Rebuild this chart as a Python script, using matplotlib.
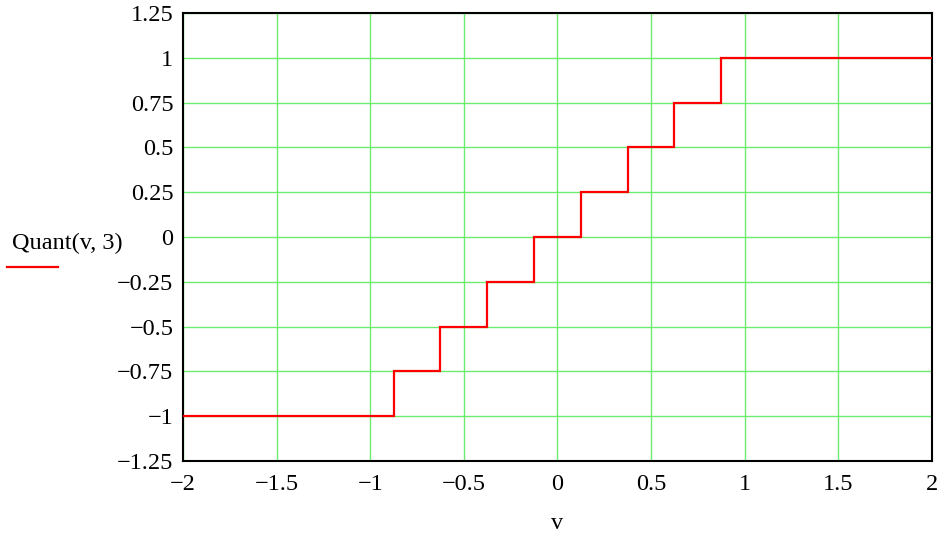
import matplotlib
matplotlib.use("Agg")
import matplotlib.pyplot as plt
from matplotlib.lines import Line2D
import numpy as np

# step edges and the quantised level on each step
edges = [-2, -0.875, -0.625, -0.375, -0.125, 0.125, 0.375, 0.625, 0.875, 2]
levels = [-1, -0.75, -0.5, -0.25, 0, 0.25, 0.5, 0.75, 1]

x_ticks = [-2, -1.5, -1, -0.5, 0, 0.5, 1, 1.5, 2]
y_ticks = [-1.25, -1, -0.75, -0.5, -0.25, 0, 0.25, 0.5, 0.75, 1, 1.25]

plt.rcParams["font.family"] = ["Liberation Serif", "DejaVu Serif"]
plt.rcParams["axes.unicode_minus"] = True


def fmt(v):
    s = f"{v:g}"
    return s.replace("-", "\u2212")


fig = plt.figure(figsize=(9.46, 5.33), dpi=100)
ax = fig.add_axes([0.1935, 0.135, 0.7915, 0.8405])

ax.stairs(levels, edges, color="#ff0000", linewidth=1.6, baseline=None, zorder=3)

ax.set_xlim(-2, 2)
ax.set_ylim(-1.25, 1.25)
ax.set_xticks(x_ticks)
ax.set_yticks(y_ticks)
ax.set_xticklabels([fmt(v) for v in x_ticks])
ax.set_yticklabels([fmt(v) for v in y_ticks])
ax.tick_params(axis="both", length=0, labelsize=17.5)
ax.tick_params(axis="x", pad=9)
ax.tick_params(axis="y", pad=7)

ax.grid(True, color="#6cec6c", linewidth=1.0)
ax.set_axisbelow(True)
for sp in ax.spines.values():
    sp.set_color("black")
    sp.set_linewidth(1.5)

ax.set_xlabel("v", fontsize=17.5, labelpad=13)

# legend in Mathcad style, left of the axis
fig.text(12 / 946, 1 - 243 / 533, "Quant(v, 3)", fontsize=17.5, va="center", ha="left")
fig.add_artist(Line2D([7 / 946, 58 / 946], [1 - 267 / 533, 1 - 267 / 533],
                      color="#ff0000", linewidth=1.6, transform=fig.transFigure))

fig.savefig("out.png", dpi=100)
